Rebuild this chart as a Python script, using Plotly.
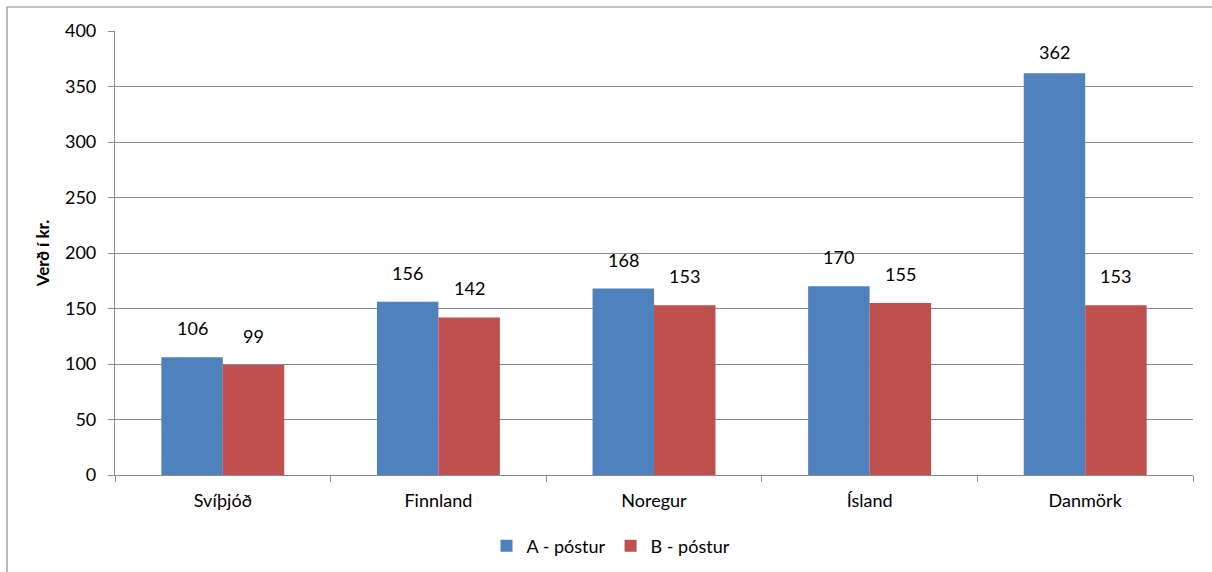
import plotly.graph_objects as go

categories = ["Svíþjóð", "Finnland", "Noregur", "Ísland", "Danmörk"]
a_postur = [106, 156, 168, 170, 362]
b_postur = [99, 142, 153, 155, 153]
series_names = ["A - póstur", "B - póstur"]
y_ticks = [0, 50, 100, 150, 200, 250, 300, 350, 400]

FONT = "Lato"
FS = 18
colors = ["#4F81BD", "#C0504D"]
YMAX = 400

fig = go.Figure()
for name, vals, col in zip(series_names, [a_postur, b_postur], colors):
    fig.add_trace(go.Bar(
        x=categories, y=vals, name=name,
        marker=dict(color=col, line=dict(width=0)),
        offsetgroup=name, hoverinfo="skip",
    ))

W, H = 1212, 572
L, R, T, B = 115, 19, 31, 97
pw, ph = W - L - R, H - T - B

bargap = 0.43
group_w = 1 - bargap
for i, vals in enumerate([a_postur, b_postur]):
    off = -group_w / 4 if i == 0 else group_w / 4
    for j, v in enumerate(vals):
        room = (YMAX - v) / YMAX * ph
        shift = min(29, room - 21)
        fig.add_annotation(
            x=j + off, y=v, xref="x", yref="y", text=str(v),
            showarrow=False, yanchor="middle", yshift=shift,
            font=dict(family=FONT, size=FS, color="#000000"),
        )

# chart border
fig.add_shape(type="rect", xref="paper", yref="paper",
              x0=(7 - L) / pw, x1=(W + 20 - L) / pw,
              y0=-(H + 20 - T - ph) / ph, y1=(H - B - 7) / ph,
              line=dict(color="#8c8c8c", width=1.2), fillcolor="rgba(0,0,0,0)",
              layer="below")

fig.update_layout(
    width=W, height=H,
    margin=dict(l=L, r=R, t=T, b=B, autoexpand=False),
    paper_bgcolor="white", plot_bgcolor="white",
    barmode="group", bargap=bargap, bargroupgap=0,
    font=dict(family=FONT, size=FS, color="#000000"),
    showlegend=True,
    legend=dict(orientation="h", x=(611 - L) / pw, xanchor="center",
                y=-0.16, yanchor="middle",
                font=dict(family=FONT, size=FS), itemwidth=30,
                traceorder="normal"),
    xaxis=dict(
        automargin=False,
        showline=True, linecolor="#8c8c8c", linewidth=1.2,
        ticks="outside", tickson="boundaries", ticklen=6, tickcolor="#8c8c8c",
        tickfont=dict(family=FONT, size=FS), showgrid=False,
        ticklabelstandoff=9,
    ),
    yaxis=dict(
        automargin=False,
        range=[0, YMAX], tickvals=y_ticks, ticktext=[str(t) for t in y_ticks],
        showline=True, linecolor="#8c8c8c", linewidth=1.2,
        ticks="outside", ticklen=6, tickcolor="#8c8c8c",
        showgrid=True, gridcolor="#8c8c8c", gridwidth=1,
        zeroline=False,
        tickfont=dict(family=FONT, size=FS),
        ticklabelstandoff=8,
        title=dict(text="<b>Verð í kr.</b>", font=dict(family=FONT, size=17), standoff=11),
    ),
)

fig.write_html("out.html", config={"displayModeBar": False},
               post_script="document.body.style.margin='0';")
